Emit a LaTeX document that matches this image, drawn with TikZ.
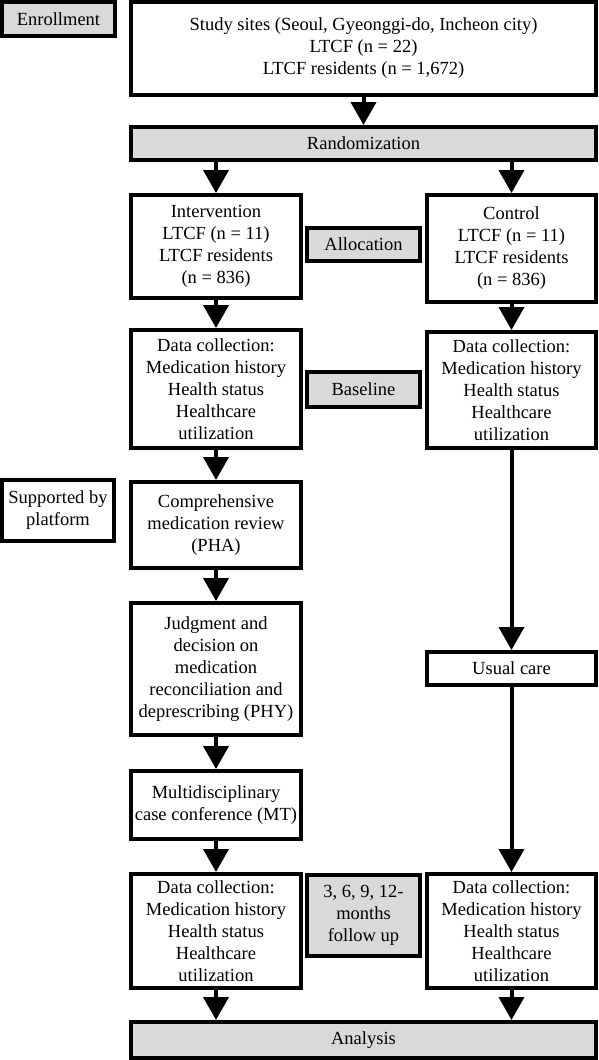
\documentclass[tikz,border=0pt]{standalone}
\usepackage{fontspec}
\setmainfont{Liberation Serif}
\usetikzlibrary{arrows.meta}
\definecolor{boxgray}{HTML}{D9D9D9}

\begin{document}
\begin{tikzpicture}[x=1pt,y=-1pt,>={Triangle[width=25pt,length=23pt]},
    box/.style={draw,line width=4pt,fill=white,align=center,inner sep=0pt,
      font=\fontsize{18.5}{22}\selectfont},
    gbox/.style={box,fill=boxgray},
    flow/.style={->,line width=4pt}]
  \useasboundingbox (0,0) rectangle (599,1060);

  % side labels
  \node[gbox,minimum width=113pt,minimum height=34pt] (enrol) at (58.5,19) {Enrollment};
  \node[box,minimum width=112pt,minimum height=61pt] (platform) at (58,510.5) {Supported by\\platform};

  % common part
  \node[box,minimum width=465pt,minimum height=93pt] (sites) at (363.5,48.5)
    {Study sites (Seoul, Gyeonggi-do, Incheon city)\\LTCF (n = 22)\\LTCF residents (n = 1,672)};
  \node[gbox,minimum width=465pt,minimum height=33pt] (rand) at (363.5,143.5) {Randomization};

  % intervention arm
  \node[box,minimum width=170pt,minimum height=103pt] (intv) at (216,246.5)
    {Intervention\\LTCF (n = 11)\\LTCF residents\\(n = 836)};
  \node[box,minimum width=170pt,minimum height=118pt] (dataA) at (216,389)
    {Data collection:\\Medication history\\Health status\\Healthcare\\utilization};
  \node[box,minimum width=170pt,minimum height=86pt] (review) at (216,525)
    {Comprehensive\\medication review\\(PHA)};
  \node[box,minimum width=170pt,minimum height=132pt] (judge) at (216,669)
    {Judgment and\\decision on\\medication\\reconciliation and\\deprescribing (PHY)};
  \node[box,minimum width=170pt,minimum height=68pt] (conf) at (216,805)
    {Multidisciplinary\\case conference (MT)};
  \node[box,minimum width=170pt,minimum height=114pt] (dataB) at (216,931)
    {Data collection:\\Medication history\\Health status\\Healthcare\\utilization};

  % stage labels
  \node[gbox,minimum width=113pt,minimum height=33pt] (alloc) at (363.5,244.5) {Allocation};
  \node[gbox,minimum width=113pt,minimum height=35pt] (base) at (363.5,389.5) {Baseline};
  \node[gbox,minimum width=113pt,minimum height=81pt] (follow) at (363.5,915.5)
    {3, 6, 9, 12-\\months\\follow up};

  % control arm
  \node[box,minimum width=169pt,minimum height=107pt] (ctrl) at (511.5,248.5)
    {Control\\LTCF (n = 11)\\LTCF residents\\(n = 836)};
  \node[box,minimum width=169pt,minimum height=116pt] (dataC) at (511.5,390)
    {Data collection:\\Medication history\\Health status\\Healthcare\\utilization};
  \node[box,minimum width=169pt,minimum height=33pt] (usual) at (511.5,668.5) {Usual care};
  \node[box,minimum width=169pt,minimum height=114pt] (dataD) at (511.5,931)
    {Data collection:\\Medication history\\Health status\\Healthcare\\utilization};

  \node[gbox,minimum width=465pt,minimum height=36pt] (analysis) at (363.5,1040) {Analysis};

  % arrows
  \draw[flow] (sites) -- (rand);
  \draw[flow] (rand.south -| intv) -- (intv);
  \draw[flow] (rand.south -| ctrl) -- (ctrl);
  \draw[flow] (intv) -- (dataA);
  \draw[flow] (dataA) -- (review);
  \draw[flow] (review) -- (judge);
  \draw[flow] (judge) -- (conf);
  \draw[flow] (conf) -- (dataB);
  \draw[flow] (dataB) -- (analysis.north -| dataB);
  \draw[flow] (ctrl) -- (dataC);
  \draw[flow] (dataC) -- (usual);
  \draw[flow] (usual) -- (dataD);
  \draw[flow] (dataD) -- (analysis.north -| dataD);
\end{tikzpicture}
\end{document}
